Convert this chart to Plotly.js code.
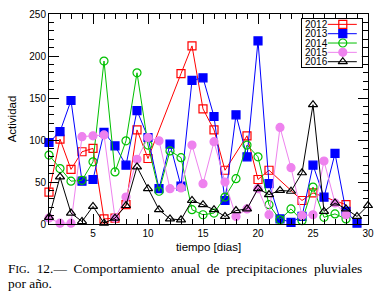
<!DOCTYPE html>
<html>
<head>
<meta charset="utf-8">
<script src="https://cdn.plot.ly/plotly-3.0.1.min.js"></script>
<style>html,body{margin:0;padding:0;background:#fff;}#chart{width:377px;height:293px;}</style>
</head>
<body>
<div id="chart"></div>
<script>
// ---- data ----
const x2012 = [1,2,3,4,5,6,7,8,9,10,13,14,15,16,17,19,20,21,24,25,28];
const y2012 = [38,101,65,86,90,6,7,23,112,78,179,212,137,112,64,105,53,64,28,37,23];

const x2013 = [1,2,3,4,5,6,7,8,9,10,11,12,13,14,15,16,17,18,19,20,21,22,23,24,25,26,27,28,29];
const y2013 = [97,110,147,51,53,109,93,70,135,103,42,95,45,171,174,128,28,130,80,218,48,6,2,9,70,32,84,15,1];

const x2014 = [1,2,3,4,5,6,7,8,9,10,11,12,13,14,15,16,17,18,19,20,21,22,23,24,25,26,27,28];
const y2014 = [82,66,51,52,74,194,62,99,180,94,39,87,79,17,11,13,32,54,94,80,23,5,18,4,44,8,12,6];

const x2015 = [1,2,3,4,5,6,7,8,9,10,11,12,13,14,15,16,17,18,19,20,21,22,23,24,25,26,27,28];
const y2015 = [7,1,1,104,105,106,7,32,77,103,99,42,43,94,48,98,50,9,18,42,11,115,67,10,11,75,25,11];

const x2016 = [1,2,3,4,5,6,7,8,9,10,11,12,13,14,15,16,17,18,19,20,21,22,23,24,25,26,27,28,29,30];
const y2016 = [8,56,13,3,21,1,7,22,68,42,17,6,5,28,23,17,9,16,18,42,35,40,39,61,142,15,25,18,9,22];

const seriesNames = ['2012','2013','2014','2015','2016'];
const xTickVals = [5,10,15,20,25,30];
const yTickVals = [0,50,100,150,200,250];

// ---- styles ----
const colors = ['#ff0000','#0000ff','#00c000','#ee82ee','#000000'];
const symbols = ['square-open','square','circle-open','circle','triangle-up-open'];
const xs = [x2012,x2013,x2014,x2015,x2016];
const ys = [y2012,y2013,y2014,y2015,y2016];

const traces = [];
for (let i = 0; i < 5; i++) {
  traces.push({
    x: xs[i], y: ys[i], type: 'scatter', mode: 'lines+markers',
    name: seriesNames[i], showlegend: false, cliponaxis: false,
    line: {color: colors[i], width: 1},
    marker: {symbol: symbols[i], size: 8, color: colors[i], line: {color: colors[i], width: 1.2}}
  });
}
// legend samples, drawn in a small inset axis
const legRow = [1,2,3,4,5];
for (let i = 0; i < 5; i++) {
  traces.push({
    x: [26,55], y: [legRow[i],legRow[i]], xaxis: 'x2', yaxis: 'y2', type: 'scatter', mode: 'lines',
    showlegend: false, hoverinfo: 'skip', line: {color: colors[i], width: 1}
  });
  traces.push({
    x: [41], y: [legRow[i]], xaxis: 'x2', yaxis: 'y2', type: 'scatter', mode: 'markers',
    showlegend: false, hoverinfo: 'skip', cliponaxis: false,
    marker: {symbol: symbols[i], size: 8, color: colors[i], line: {color: colors[i], width: 1.2}}
  });
}

const annotations = [];
for (let i = 0; i < 5; i++) {
  annotations.push({xref: 'x2', yref: 'y2', x: 2, y: legRow[i], text: seriesNames[i],
    showarrow: false, xanchor: 'left', yanchor: 'middle', borderpad: 0,
    font: {family: 'Liberation Sans, Arial, sans-serif', size: 10, color: '#000'}});
}
const capFont = {family: 'Liberation Serif, Times New Roman, serif', size: 13.4, color: '#000'};
annotations.push({xref: 'paper', yref: 'paper', x: -0.135, y: -0.21, xanchor: 'left', yanchor: 'middle',
  showarrow: false, align: 'left', font: capFont,
  text: '<span style="word-spacing:3.4px">F<span style="font-size:10.5px">IG</span>. 12.— Comportamiento anual de precipitaciones pluviales</span>'});
annotations.push({xref: 'paper', yref: 'paper', x: -0.135, y: -0.285, xanchor: 'left', yanchor: 'middle',
  showarrow: false, align: 'left', font: capFont, text: 'por año.'});

const tickFont = {family: 'Liberation Sans, Arial, sans-serif', size: 10, color: '#000'};
const layout = {
  width: 377, height: 293,
  margin: {l: 49, r: 9, t: 14, b: 69},
  paper_bgcolor: '#fff', plot_bgcolor: '#fff',
  showlegend: false,
  font: tickFont,
  xaxis: {
    range: [1, 30], tickvals: xTickVals, ticktext: xTickVals.map(String),
    ticks: 'inside', ticklen: 10, tickwidth: 1, tickcolor: '#000',
    minor: {dtick: 1, tick0: 0, ticks: 'inside', ticklen: 5, tickwidth: 1, tickcolor: '#000', showgrid: false},
    showline: true, linecolor: '#000', linewidth: 1, mirror: 'allticks',
    showgrid: false, zeroline: false, tickfont: tickFont,
    title: {text: 'tiempo [dias]', font: {family: 'Liberation Sans, Arial, sans-serif', size: 11.5, color: '#000'}, standoff: 4}
  },
  yaxis: {
    range: [0, 250], tickvals: yTickVals, ticktext: yTickVals.map(String),
    ticks: 'inside', ticklen: 10, tickwidth: 1, tickcolor: '#000',
    minor: {dtick: 10, tick0: 0, ticks: 'inside', ticklen: 5, tickwidth: 1, tickcolor: '#000', showgrid: false},
    showline: true, linecolor: '#000', linewidth: 1, mirror: 'allticks',
    showgrid: false, zeroline: false, tickfont: tickFont,
    title: {text: 'Actividad', font: {family: 'Liberation Sans, Arial, sans-serif', size: 11.5, color: '#000'}, standoff: 10}
  },
  xaxis2: {domain: [0.7924, 0.9806], range: [0, 60], anchor: 'y2', showline: true, mirror: true,
    linecolor: '#000', linewidth: 1, showgrid: false, zeroline: false, showticklabels: false, ticks: ''},
  yaxis2: {domain: [0.7476, 0.976], range: [5.57, 0.43], anchor: 'x2', showline: true, mirror: true,
    linecolor: '#000', linewidth: 1, showgrid: false, zeroline: false, showticklabels: false, ticks: ''},
  annotations: annotations
};

Plotly.newPlot('chart', traces, layout, {staticPlot: true, displayModeBar: false});
</script>
</body>
</html>
